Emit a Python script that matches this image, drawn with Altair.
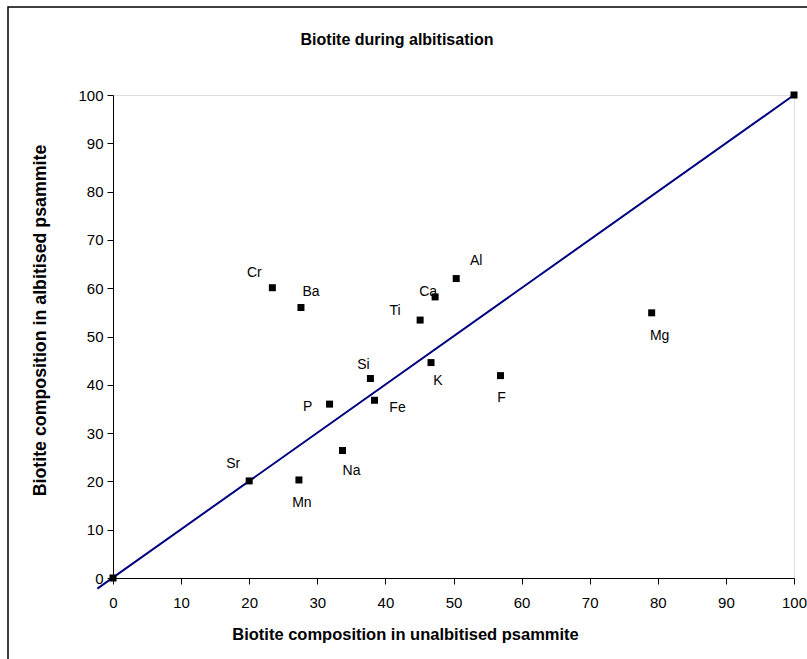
import altair as alt
import pandas as pd

# ---- data ----
elements = ["", "Sr", "Mn", "Na", "P", "Fe", "Si", "K", "F", "Ti", "Ca", "Al", "Cr", "Ba", "Mg", ""]
unalbitised = [0, 20.0, 27.3, 33.7, 31.8, 38.4, 37.8, 46.7, 56.9, 45.1, 47.3, 50.4, 23.4, 27.6, 79.1, 100]
albitised = [0, 20.1, 20.3, 26.4, 36.0, 36.8, 41.3, 44.6, 41.9, 53.4, 58.2, 62.0, 60.1, 56.0, 54.9, 100]

line_x = [-2.3, 100]
line_y = [-2.2, 100]

x_ticks = [0, 10, 20, 30, 40, 50, 60, 70, 80, 90, 100]
y_ticks = [0, 10, 20, 30, 40, 50, 60, 70, 80, 90, 100]

chart_title = "Biotite during albitisation"

pts = pd.DataFrame({"element": elements, "x": unalbitised, "y": albitised})
ln = pd.DataFrame({"x": line_x, "y": line_y})

FONT = "Liberation Sans"

# label offsets (pixels) relative to each point, styling only
offsets = {
    "Cr": (-18, -15), "Ba": (10, -16), "Ti": (-25, -9), "Ca": (-7, -5),
    "Al": (20, -18), "Si": (-7, -14), "K": (7, 18), "F": (1, 22),
    "P": (-22, 3), "Fe": (23, 8), "Sr": (-16, -17), "Mn": (3, 23),
    "Na": (9, 21), "Mg": (8, 23),
}

xs = alt.Scale(domain=[0, 100], nice=False, zero=False)
ys = alt.Scale(domain=[0, 100], nice=False, zero=False)

x_axis = alt.Axis(
    values=x_ticks, grid=False, domainColor="black", tickColor="black",
    tickSize=6, labelPadding=11, labelFont=FONT, labelFontSize=15,
    labelColor="black", title="Biotite composition in unalbitised psammite",
    titleFont=FONT, titleFontSize=16.5, titleFontWeight="bold", titleColor="black",
    titleX=292, titleY=56, titleBaseline="middle", titleAlign="center",
    labelFlush=False, labelOverlap=False,
)
y_axis = alt.Axis(
    values=y_ticks, grid=False, domainColor="black", tickColor="black",
    tickSize=6, labelPadding=4, labelFont=FONT, labelFontSize=15,
    labelColor="black", title="Biotite composition in albitised psammite",
    titleFont=FONT, titleFontSize=17.8, titleFontWeight="bold", titleColor="black",
    titleX=-73, titleY=225, titleBaseline="middle", titleAlign="center",
    titleAngle=-90, labelFlush=False, labelOverlap=False,
)

base = alt.Chart(pd.DataFrame({"t": [chart_title]}))

border = base.mark_rect(
    fill=None, fillOpacity=0, stroke="black", strokeWidth=1.5
).encode(
    x=alt.value(-105), x2=alt.value(720), y=alt.value(-88), y2=alt.value(600)
)

title = base.mark_text(
    font=FONT, fontSize=16, fontWeight="bold", color="black",
    align="center", baseline="middle",
).encode(x=alt.value(284), y=alt.value(-55), text="t:N")

line = alt.Chart(ln).mark_line(color="#000080", strokeWidth=2, clip=False).encode(
    x=alt.X("x:Q", scale=xs, axis=x_axis),
    y=alt.Y("y:Q", scale=ys, axis=y_axis),
)

points = alt.Chart(pts).mark_square(size=49, color="black", opacity=1).encode(
    x=alt.X("x:Q", scale=xs),
    y=alt.Y("y:Q", scale=ys),
)

labels = []
for el, (dx, dy) in offsets.items():
    labels.append(
        alt.Chart(pts).transform_filter(alt.datum.element == el).mark_text(
            font=FONT, fontSize=14, color="black", dx=dx, dy=dy,
            align="center", baseline="middle",
        ).encode(x=alt.X("x:Q", scale=xs), y=alt.Y("y:Q", scale=ys), text="element:N")
    )

chart = alt.layer(border, title, line, points, *labels).properties(
    width=681, height=483,
    autosize=alt.AutoSizeParams(type="none"),
    padding={"left": 113, "top": 95, "right": 13, "bottom": 81},
).configure_view(stroke="#808080", strokeWidth=1).configure(background="white")

chart.save("out.html", embed_options={"renderer": "svg", "actions": False})
